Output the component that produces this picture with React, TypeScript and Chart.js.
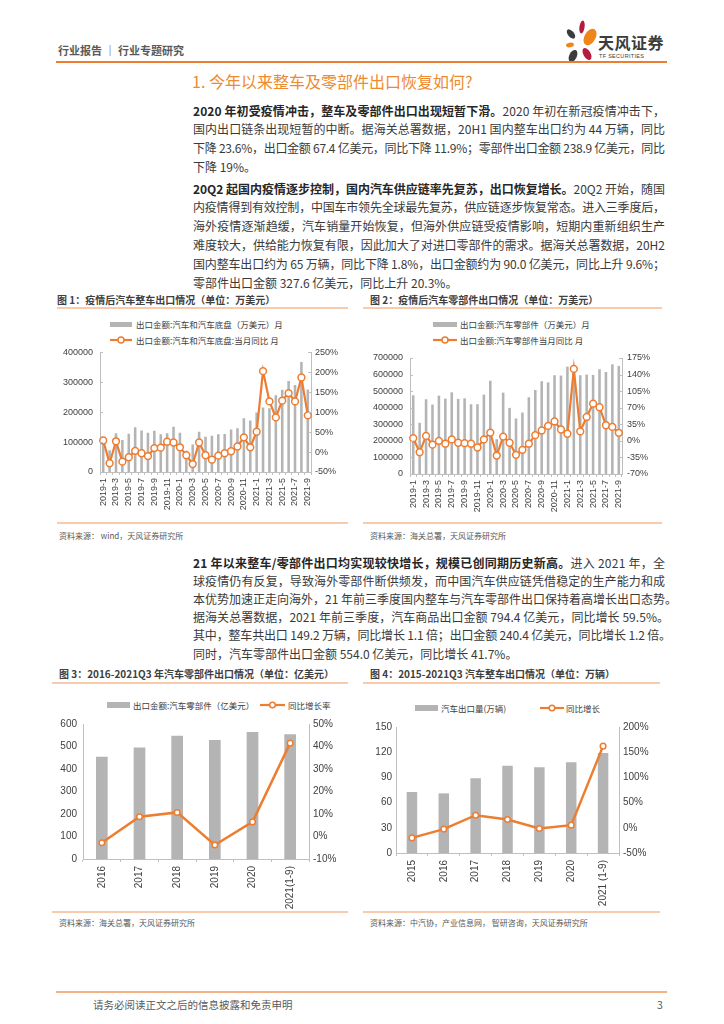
import React, { useEffect, useLayoutEffect, useRef } from "react";
import { Chart, registerables } from "chart.js";
Chart.register(...registerables);

// ---------- DATA ----------
const months = [
  "2019-1", "2019-2", "2019-3", "2019-4", "2019-5", "2019-6", "2019-7", "2019-8", "2019-9", "2019-10", "2019-11", "2019-12",
  "2020-1", "2020-2", "2020-3", "2020-4", "2020-5", "2020-6", "2020-7", "2020-8", "2020-9", "2020-10", "2020-11", "2020-12",
  "2021-1", "2021-2", "2021-3", "2021-4", "2021-5", "2021-6", "2021-7", "2021-8", "2021-9",
];
const monthTickLabels = [
  "2019-1", "", "2019-3", "", "2019-5", "", "2019-7", "", "2019-9", "", "2019-11", "",
  "2020-1", "", "2020-3", "", "2020-5", "", "2020-7", "", "2020-9", "", "2020-11", "",
  "2021-1", "", "2021-3", "", "2021-5", "", "2021-7", "", "2021-9",
];
const vehicleExport = [
  105000, 73000, 130000, 107000, 128000, 150000, 139000, 131000, 138000, 126000, 130000, 151000,
  131000, 71000, 92000, 135000, 118000, 121000, 126000, 127000, 142000, 146000, 180000, 172000,
  199000, 216000, 213000, 257000, 275000, 304000, 291000, 368000, 276000,
];
const vehicleYoY = [
  29, -28, 27, -24, -13, 3, -3, -10, 10, 11, 26, 24,
  12, -8, -30, 24, -8, -19, -9, -3, 2, 14, 37, 12,
  51, 203, 127, 87, 129, 148, 127, 187, 92,
];
const partsExport = [
  475000, 309000, 451000, 419000, 473000, 455000, 493000, 453000, 457000, 421000, 421000, 479000,
  563000, 210000, 491000, 399000, 335000, 371000, 463000, 507000, 560000, 553000, 596000, 594000,
  648000, 640000, 596000, 600000, 598000, 632000, 616000, 662000, 652000,
];
const partsYoY = [
  5.6, -24, 10.5, -8, 0, -6, 3, -4, -5, -6, -14, 3,
  17.5, -31, 9, -4, -29.5, -19, -6, 12, 22, 31.6, 41, 24,
  15, 152, 20, 50.5, 78.6, 71, 33, 29.5, 17,
];
const years3 = ["2016", "2017", "2018", "2019", "2020", "2021(1-9)"];
const partsAnnual = [455, 496, 548, 529, 565, 554];
const partsAnnualYoY = [-2.8, 8.8, 10.7, -3.8, 6.5, 41.5];
const years4 = ["2015", "2016", "2017", "2018", "2019", "2020", "2021 (1-9)"];
const vehicleAnnual = [72.6, 71, 89, 104, 102, 108, 119];
const vehicleAnnualYoY = [-20, -2.6, 25, 16.4, -1.3, 5.3, 162];

// ---------- STYLE ----------
const ORANGE = "#ED7D31";
const LIGHT_ORANGE = "#F8CBAD";
const GREY = "#B4B4B4";
const AXIS = "#BFBFBF";
const TXT = "#404040";
const CJK = "'Noto Sans CJK SC', 'Liberation Sans', sans-serif";
const NUMF = "'Liberation Sans', 'Noto Sans CJK SC', sans-serif";

type Box = { left: number; top: number; width: number; height: number };
type Plot = { left: number; top: number; right: number; bottom: number };
type Spec = {
  labels: string[];
  tickLabels?: string[];
  bars: number[];
  line: number[];
  box: Box;
  plot: Plot;
  yL: [number, number, number];
  yR: [number, number, number];
  barPct: number;
  radius: number;
  lineW: number;
  fontSize: number;
  padL: number;
  padR: number;
  padX: number;
  innerTicks?: boolean;
};

// small tick marks pointing into the plot on both value axes
const innerTickPlugin = {
  id: "innerTicks",
  afterDraw(chart: any, _args: any, opts: any) {
    if (!opts || !opts.on) return;
    const { ctx, chartArea } = chart;
    ctx.save();
    ctx.strokeStyle = AXIS;
    ctx.lineWidth = 1;
    const yS = chart.scales.y;
    const rS = chart.scales.y1;
    yS.ticks.forEach((t: any) => {
      const py = Math.round(yS.getPixelForValue(t.value)) + 0.5;
      ctx.beginPath();
      ctx.moveTo(chartArea.left, py);
      ctx.lineTo(chartArea.left + 3, py);
      ctx.stroke();
    });
    rS.ticks.forEach((t: any) => {
      const py = Math.round(rS.getPixelForValue(t.value)) + 0.5;
      ctx.beginPath();
      ctx.moveTo(chartArea.right, py);
      ctx.lineTo(chartArea.right - 3, py);
      ctx.stroke();
    });
    ctx.restore();
  },
};

function ComboChart({ spec }: { spec: Spec }) {
  const ref = useRef<HTMLCanvasElement>(null);
  useEffect(() => {
    const s = spec;
    const wL = s.plot.left - s.box.left;
    const wR = s.box.left + s.box.width - s.plot.right;
    const hX = s.box.top + s.box.height - s.plot.bottom;
    const padTop = s.plot.top - s.box.top;
    const tl = s.tickLabels;
    const chart = new Chart(ref.current as HTMLCanvasElement, {
      data: {
        labels: s.labels,
        datasets: [
          {
            type: "line",
            data: s.line,
            yAxisID: "y1",
            order: 0,
            borderColor: ORANGE,
            borderWidth: s.lineW,
            pointRadius: s.radius,
            pointBackgroundColor: "#FFFFFF",
            pointBorderColor: ORANGE,
            pointBorderWidth: 1.5,
            tension: 0,
            clip: false as any,
          },
          {
            type: "bar",
            data: s.bars,
            yAxisID: "y",
            order: 1,
            backgroundColor: GREY,
            barPercentage: s.barPct,
            categoryPercentage: 1,
          },
        ],
      } as any,
      plugins: [innerTickPlugin],
      options: {
        responsive: false,
        maintainAspectRatio: false,
        animation: false,
        layout: { padding: { top: padTop, left: 0, right: 0, bottom: 0 } },
        plugins: {
          legend: { display: false },
          tooltip: { enabled: false },
          innerTicks: { on: !!s.innerTicks },
        },
        font: { family: NUMF },
        scales: {
          x: {
            offset: true,
            grid: { display: true, drawOnChartArea: false, drawTicks: true, tickLength: 3, offset: true, color: AXIS },
            border: { display: true, color: AXIS },
            ticks: {
              autoSkip: false,
              maxRotation: 90,
              minRotation: 90,
              padding: s.padX,
              font: { size: s.fontSize, family: NUMF },
              color: TXT,
              callback: (_v: any, i: number) => (tl ? tl[i] : s.labels[i]),
            },
            afterFit: (sc: any) => {
              sc.height = hX;
            },
          },
          y: {
            position: "left",
            min: s.yL[0],
            max: s.yL[1],
            grid: { display: false, drawTicks: false },
            border: { display: true, color: AXIS },
            ticks: {
              stepSize: s.yL[2],
              padding: s.padL,
              font: { size: s.fontSize, family: NUMF },
              color: TXT,
              callback: (v: any) => String(v),
            },
            afterFit: (sc: any) => {
              sc.width = wL;
            },
          },
          y1: {
            position: "right",
            min: s.yR[0],
            max: s.yR[1],
            grid: { display: false, drawTicks: false },
            border: { display: true, color: AXIS },
            ticks: {
              stepSize: s.yR[2],
              padding: s.padR,
              font: { size: s.fontSize, family: NUMF },
              color: TXT,
              callback: (v: any) => `${v}%`,
            },
            afterFit: (sc: any) => {
              sc.width = wR;
            },
          },
        },
      } as any,
    });
    return () => chart.destroy();
  }, []);
  const b = spec.box;
  return (
    <canvas
      ref={ref}
      width={b.width}
      height={b.height}
      style={{ position: "absolute", left: b.left, top: b.top, width: b.width, height: b.height }}
    />
  );
}

// ---------- SMALL PIECES ----------
function T({ x, y, size, children, color = TXT, bold = false, family = CJK, style = {} }: any) {
  return (
    <div
      style={{
        position: "absolute",
        left: x,
        top: y - size * 0.75,
        fontSize: size,
        lineHeight: `${size * 1.5}px`,
        color,
        fontWeight: bold ? 700 : 400,
        fontFamily: family,
        whiteSpace: "nowrap",
        ...style,
      }}
    >
      {children}
    </div>
  );
}

function HLine({ x1, x2, y, color, h = 1 }: any) {
  return <div style={{ position: "absolute", left: x1, top: y - h / 2, width: x2 - x1, height: h, background: color }} />;
}

function BarKey({ x, y, w, h = 5 }: any) {
  return <div style={{ position: "absolute", left: x, top: y - h / 2, width: w, height: h, background: GREY }} />;
}

function LineKey({ x, y, w, r = 3 }: any) {
  return (
    <svg style={{ position: "absolute", left: x, top: y - 6 }} width={w} height={12}>
      <line x1={0} y1={6} x2={w} y2={6} stroke={ORANGE} strokeWidth={2.2} />
      <circle cx={w / 2} cy={6} r={r} fill="#fff" stroke={ORANGE} strokeWidth={1.5} />
    </svg>
  );
}

// one justified line of body text: natural width measured, then letter-spacing fills the target width
function Line({ y, children, width = 472, last = false }: any) {
  const ref = useRef<HTMLSpanElement>(null);
  useLayoutEffect(() => {
    const el = ref.current;
    if (!el || last) return;
    el.style.letterSpacing = "0px";
    const natural = el.getBoundingClientRect().width;
    const n = (el.textContent || "").length;
    if (n > 1) el.style.letterSpacing = `${(width - natural) / (n - 1)}px`;
  }, []);
  return (
    <div
      style={{
        position: "absolute",
        left: 193,
        top: y - 9.5,
        height: 19,
        fontSize: 12,
        lineHeight: "19px",
        color: "#3A3A3A",
        fontFamily: CJK,
        whiteSpace: "nowrap",
      }}
    >
      <span ref={ref} style={{ display: "inline-block", whiteSpace: "nowrap" }}>
        {children}
      </span>
    </div>
  );
}

const B = ({ children }: any) => <span style={{ fontWeight: 700, color: "#262626" }}>{children}</span>;

function Logo() {
  return (
    <svg style={{ position: "absolute", left: 562, top: 20 }} width={38} height={44} viewBox="0 0 38 44">
      <ellipse cx={20} cy={7} rx={2.6} ry={6.5} fill="#B31B3F" transform="rotate(8 20 7)" />
      <ellipse cx={9} cy={14} rx={3} ry={5.5} fill="#3C3C3C" transform="rotate(-40 9 14)" />
      <ellipse cx={28} cy={17} rx={5.5} ry={9} fill="#F08519" transform="rotate(30 28 17)" />
      <ellipse cx={8} cy={25} rx={4} ry={2.4} fill="#F08519" transform="rotate(-10 8 25)" />
      <ellipse cx={11} cy={36} rx={3.8} ry={6.5} fill="#3C3C3C" transform="rotate(25 11 36)" />
      <ellipse cx={25} cy={34} rx={3.6} ry={6.5} fill="#B31B3F" transform="rotate(-30 25 34)" />
    </svg>
  );
}

// ---------- CHART SPECS ----------
const spec1: Spec = {
  labels: months,
  tickLabels: monthTickLabels,
  bars: vehicleExport,
  line: vehicleYoY,
  box: { left: 50, top: 340, width: 300, height: 180 },
  plot: { left: 100, top: 349, right: 311, bottom: 472 },
  yL: [0, 400000, 100000],
  yR: [-50, 250, 50],
  barPct: 0.4,
  radius: 3.4,
  lineW: 2.2,
  fontSize: 9,
  padL: 7,
  padR: 4,
  padX: 3,
  innerTicks: true,
};
const spec2: Spec = {
  labels: months,
  tickLabels: monthTickLabels,
  bars: partsExport,
  line: partsYoY,
  box: { left: 360, top: 340, width: 305, height: 180 },
  plot: { left: 410, top: 358, right: 622, bottom: 474 },
  yL: [0, 700000, 100000],
  yR: [-70, 175, 35],
  barPct: 0.4,
  radius: 3.4,
  lineW: 2.2,
  fontSize: 9,
  padL: 7,
  padR: 5,
  padX: 3,
  innerTicks: true,
};
const spec3: Spec = {
  labels: years3,
  bars: partsAnnual,
  line: partsAnnualYoY,
  box: { left: 50, top: 712, width: 300, height: 198 },
  plot: { left: 83, top: 721, right: 309, bottom: 859 },
  yL: [0, 600, 100],
  yR: [-10, 50, 10],
  barPct: 0.31,
  radius: 2.8,
  lineW: 2.5,
  fontSize: 10,
  padL: 6,
  padR: 4,
  padX: 4,
};
const spec4: Spec = {
  labels: years4,
  bars: vehicleAnnual,
  line: vehicleAnnualYoY,
  box: { left: 360, top: 712, width: 300, height: 198 },
  plot: { left: 396, top: 727, right: 619, bottom: 853 },
  yL: [0, 150, 30],
  yR: [-50, 200, 50],
  barPct: 0.33,
  radius: 2.8,
  lineW: 2.5,
  fontSize: 10,
  padL: 4,
  padR: 4,
  padX: 4,
};

export default function App() {
  return (
    <div
      style={{
        position: "absolute",
        left: 0,
        top: 0,
        width: 724,
        height: 1024,
        background: "#fff",
        overflow: "hidden",
        fontFamily: CJK,
      }}
    >
      {/* header */}
      <T x={58} y={50} size={11} color="#595959" bold>
        行业报告 ｜ 行业专题研究
      </T>
      <Logo />
      <T x={598} y={42} size={16} color="#3C3C3C" bold style={{ letterSpacing: 0.5 }}>
        天风证券
      </T>
      <T x={599} y={56} size={5.5} color="#3C3C3C" family={NUMF} style={{ letterSpacing: 0.3 }}>
        TF SECURITIES
      </T>
      <HLine x1={56} x2={667} y={62} color={ORANGE} h={2} />

      {/* section title */}
      <T x={192} y={81} size={16} color="#EE8A2F">
        1. 今年以来整车及零部件出口恢复如何?
      </T>

      {/* paragraph 1 */}
      <Line y={110}>
        <B>2020 年初受疫情冲击，整车及零部件出口出现短暂下滑。</B>2020 年初在新冠疫情冲击下，
      </Line>
      <Line y={128.7}>国内出口链条出现短暂的中断。据海关总署数据，20H1 国内整车出口约为 44 万辆，同比</Line>
      <Line y={147.4}>下降 23.6%，出口金额 67.4 亿美元，同比下降 11.9%；零部件出口金额 238.9 亿美元，同比</Line>
      <Line y={166} last>
        下降 19%。
      </Line>

      {/* paragraph 2 */}
      <Line y={188}>
        <B>20Q2 起国内疫情逐步控制，国内汽车供应链率先复苏，出口恢复增长。</B>20Q2 开始，随国
      </Line>
      <Line y={206.8}>内疫情得到有效控制，中国车市领先全球最先复苏，供应链逐步恢复常态。进入三季度后，</Line>
      <Line y={225.6}>海外疫情逐渐趋缓，汽车销量开始恢复，但海外供应链受疫情影响，短期内重新组织生产</Line>
      <Line y={244.4}>难度较大，供给能力恢复有限，因此加大了对进口零部件的需求。据海关总署数据，20H2</Line>
      <Line y={263.2}>国内整车出口约为 65 万辆，同比下降 1.8%，出口金额约为 90.0 亿美元，同比上升 9.6%；</Line>
      <Line y={282} last>
        零部件出口金额 327.6 亿美元，同比上升 20.3%。
      </Line>

      {/* chart 1 & 2 titles */}
      <T x={57} y={299} size={10} color="#404040" bold>
        图 1：疫情后汽车整车出口情况（单位：万美元）
      </T>
      <HLine x1={57} x2={348} y={308} color={LIGHT_ORANGE} h={2} />
      <T x={370} y={299} size={10} color="#404040" bold>
        图 2：疫情后汽车零部件出口情况（单位：万美元）
      </T>
      <HLine x1={363} x2={662} y={308} color={LIGHT_ORANGE} h={2} />

      {/* chart 1 legend */}
      <BarKey x={110} y={324} w={22} />
      <T x={136} y={324} size={8.5}>出口金额:汽车和汽车底盘（万美元）月</T>
      <LineKey x={110} y={340} w={22} />
      <T x={136} y={340} size={8.5}>出口金额:汽车和汽车底盘:当月同比 月</T>
      <ComboChart spec={spec1} />

      {/* chart 2 legend */}
      <BarKey x={433} y={324} w={24} />
      <T x={460} y={324} size={8.5}>出口金额:汽车零部件（万美元）月</T>
      <LineKey x={433} y={340} w={24} />
      <T x={460} y={340} size={8.5}>出口金额:汽车零部件当月同比 月</T>
      <ComboChart spec={spec2} />

      <HLine x1={57} x2={348} y={523} color={LIGHT_ORANGE} h={2} />
      <HLine x1={363} x2={662} y={523} color={LIGHT_ORANGE} h={2} />
      <T x={59} y={536} size={8} color="#595959">资料来源： wind，天风证券研究所</T>
      <T x={370} y={536} size={8} color="#595959">资料来源：海关总署，天风证券研究所</T>

      {/* paragraph 3 */}
      <Line y={562}>
        <B>21 年以来整车/零部件出口均实现较快增长，规模已创同期历史新高。</B>进入 2021 年，全
      </Line>
      <Line y={580.2}>球疫情仍有反复，导致海外零部件断供频发，而中国汽车供应链凭借稳定的生产能力和成</Line>
      <Line y={598.4} width={484}>本优势加速正走向海外，21 年前三季度国内整车与汽车零部件出口保持着高增长出口态势。</Line>
      <Line y={616.6} width={476}>据海关总署数据，2021 年前三季度，汽车商品出口金额 794.4 亿美元，同比增长 59.5%。</Line>
      <Line y={634.8} width={478}>其中，整车共出口 149.2 万辆，同比增长 1.1 倍；出口金额 240.4 亿美元，同比增长 1.2 倍。</Line>
      <Line y={653} last>
        同时，汽车零部件出口金额 554.0 亿美元，同比增长 41.7%。
      </Line>

      {/* chart 3 */}
      <T x={59} y={673} size={10} color="#404040" bold>
        图 3：2016-2021Q3 年汽车零部件出口情况（单位：亿美元）
      </T>
      <HLine x1={52} x2={348} y={683} color={LIGHT_ORANGE} h={2} />
      <BarKey x={107} y={705} w={23} h={6} />
      <T x={133} y={705} size={8.5}>出口金额:汽车零部件（亿美元）</T>
      <LineKey x={260} y={705} w={25} r={2.8} />
      <T x={288} y={705} size={8.5}>同比增长率</T>
      <ComboChart spec={spec3} />
      <HLine x1={52} x2={348} y={912} color={LIGHT_ORANGE} h={2} />
      <T x={59} y={923} size={8} color="#595959">资料来源：海关总署，天风证券研究所</T>

      {/* chart 4 */}
      <T x={370} y={673} size={10} color="#404040" bold>
        图 4：2015-2021Q3 汽车整车出口情况（单位：万辆）
      </T>
      <HLine x1={363} x2={660} y={683} color={LIGHT_ORANGE} h={2} />
      <BarKey x={415} y={708} w={23} h={6} />
      <T x={441} y={708} size={8.5}>汽车出口量(万辆)</T>
      <LineKey x={540} y={708} w={24} r={2.8} />
      <T x={566} y={708} size={8.5}>同比增长</T>
      <ComboChart spec={spec4} />
      <HLine x1={363} x2={660} y={912} color={LIGHT_ORANGE} h={2} />
      <T x={370} y={923} size={8} color="#595959">资料来源：中汽协，产业信息网， 智研咨询，天风证券研究所</T>

      {/* footer */}
      <HLine x1={56} x2={667} y={992} color="#F4B183" h={1.5} />
      <T x={93} y={1005} size={10.5} color="#595959">
        请务必阅读正文之后的信息披露和免责申明
      </T>
      <T x={657} y={1005} size={10.5} color="#595959">
        3
      </T>
    </div>
  );
}
